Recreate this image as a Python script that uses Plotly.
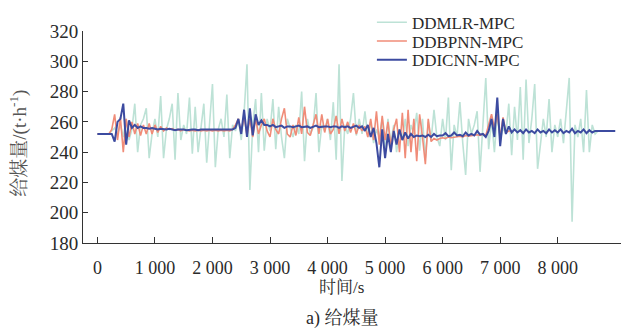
import plotly.graph_objects as go

# time axis (s)
time_s = list(range(0, 9001, 50))

ddicnn = [252,252,252,252,252,252,247,260,262,272,245,261,256,258,256,257,256,256,255.5,256,
          255.5,255,255.5,255,255,255.5,255,254.5,255,255,255,254.5,255,255,255,254.5,255,255,255,255,
          255,255,255,255,255,255,255,255,256,262,252,268,250,269,251,265,258,261,258,258,
          257,258,256.5,257,257.5,256,257,257,256.5,257,257.5,256.5,257,257,256,257,257.5,256.5,257,257,
          257,256.5,257,257,256,257,256.5,257,256,257,257.5,256,257,254,258,250,256,246,230,255,
          236,252,240,254,245,255,248,253,249,252,250,251,250.5,251,250,251.5,250,252,250.5,251,
          251,252.5,250.5,251,253,251,251.5,250.5,253,251,252,251,254,251.5,252,250,254,262,250,276,
          244,262,252,257,253,255,253,254.5,252.5,255,253,254,252.5,255,253,254,252.5,255,253,254.5,
          253,255,252.5,254,253,255.5,252.5,254,253,255,252.5,254.5,253,254,254,254,254,254,254,254,
          254]

ddbpnn = [252,252,252,252,252,255,265,248,263,240,262,250,260,252,259,251,258,252,259,252,
          258,253,257,254,256,255,255.5,254.5,255,254,255,254.5,254,254.5,254,254.5,254,254.5,254,254.5,
          254,254.5,254,254.5,254,254.5,254,255,258,262,253,264,251,262,250,262,252,258,262,254,
          250,262,255,252,262,269,252,250,258,251,263,252,270,253,251,258,265,252,265,253,
          262,252,255,264,252,262,254,260,253,259,252,258,254,257,250,262,248,267,245,264,
          248,260,244,255,262,240,266,236,268,240,262,234,265,250,232,262,247,249,248,249,
          249.5,249,250,249.5,250,250,250.5,250,251,250.5,251,251,251.5,251,252,251,258,265,256,265,
          250,263,253,254,254]

ddmlr = [252,252,252,252,252,254,256,252,258,250,262,248,255,272,240,258,262,269,236,252,
         262,250,277,236,255,262,272,235,279,248,258,252,276,239,270,240,256,272,233,260,
         285,230,255,262,250,278,236,258,254,262,248,266,298,215,258,275,240,279,241,262,
         254,275,242,270,250,236,262,256,250,258,252,280,234,262,252,256,279,240,258,254,
         262,248,273,235,298,221,258,252,262,279,251,262,252,267,250,260,246,255,250,262,
         240,262,246,258,240,255,248,262,244,258,252,266,241,262,236,260,248,268,250,244,
         262,248,276,228,258,250,273,246,225,262,252,258,267,227,255,289,242,262,240,265,
         248,256,252,272,238,270,248,283,235,288,246,262,285,229,245,262,250,275,240,258,
         250,262,246,268,289,194,258,250,262,240,281,240,258,252,254]

x_tickvals = [0, 1000, 2000, 3000, 4000, 5000, 6000, 7000, 8000]
x_ticktext = ["0", "1 000", "2 000", "3 000", "4 000", "5 000", "6 000", "7 000", "8 000"]
y_tickvals = [180, 200, 220, 240, 260, 280, 300, 320]

SERIF = "Liberation Serif, Times New Roman, Noto Serif CJK SC, Noto Sans CJK SC, serif"
TXT = "#2a2a2a"

fig = go.Figure()
fig.add_trace(go.Scatter(x=time_s[:len(ddmlr)], y=ddmlr, mode="lines", name="DDMLR-MPC",
                         line=dict(color="#bde2d6", width=1.6), legend="legend"))
fig.add_trace(go.Scatter(x=time_s[:len(ddbpnn)], y=ddbpnn, mode="lines", name="DDBPNN-MPC",
                         line=dict(color="#f08c78", width=1.6), legend="legend2"))
fig.add_trace(go.Scatter(x=time_s[:len(ddicnn)], y=ddicnn, mode="lines", name="DDICNN-MPC",
                         line=dict(color="#3c4ba0", width=2), legend="legend3"))

leg_common = dict(x=0.537, xanchor="left", yanchor="middle", bgcolor="rgba(0,0,0,0)",
                  borderwidth=0, font=dict(family=SERIF, size=17, color=TXT))

fig.update_layout(
    width=626, height=336,
    margin=dict(l=83, r=5, t=17, b=93),
    paper_bgcolor="white", plot_bgcolor="white",
    showlegend=True,
    legend=dict(y=1.039, **leg_common),
    legend2=dict(y=0.951, **leg_common),
    legend3=dict(y=0.862, **leg_common),
    xaxis=dict(range=[-250, 9100], tickvals=x_tickvals, ticktext=x_ticktext,
               showline=True, linecolor="#333", linewidth=1, showgrid=False, zeroline=False,
               ticks="inside", ticklen=6, tickcolor="#333", tickwidth=1,
               ticklabelstandoff=8,
               tickfont=dict(family=SERIF, size=18, color=TXT)),
    yaxis=dict(range=[180, 320], tickvals=y_tickvals,
               showline=True, linecolor="#333", linewidth=1, showgrid=False, zeroline=False,
               ticks="inside", ticklen=5, tickcolor="#333", tickwidth=1,
               tickfont=dict(family=SERIF, size=19, color=TXT)),
    annotations=[
        dict(text="时间/s", xref="paper", yref="paper", x=0.4796, y=-0.208, showarrow=False,
             xanchor="center", yanchor="middle", font=dict(family=SERIF, size=17, color=TXT)),
        dict(text="a) 给煤量", xref="paper", yref="paper", x=0.481, y=-0.354, showarrow=False,
             xanchor="center", yanchor="middle", font=dict(family=SERIF, size=18, color=TXT)),
        dict(text="给煤量/(t·h<sup>-1</sup>)", xref="paper", yref="paper", x=-0.119, y=0.473,
             showarrow=False, textangle=-90, xanchor="center", yanchor="middle",
             font=dict(family=SERIF, size=19, color="#555")),
    ],
)

fig.write_html("out.html")
